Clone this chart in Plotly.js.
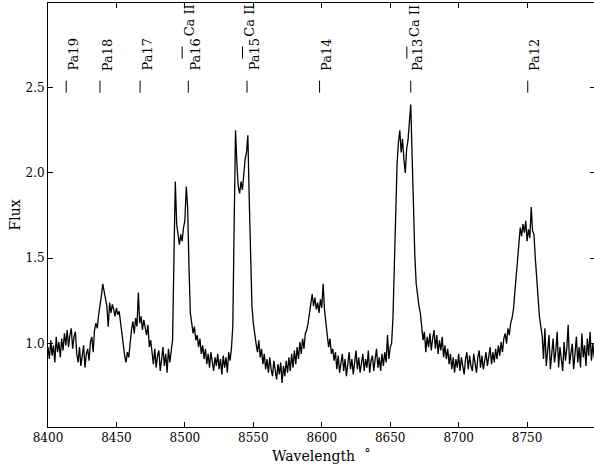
<!DOCTYPE html>
<html>
<head>
<meta charset="utf-8">
<script src="https://cdn.plot.ly/plotly-3.0.1.min.js"></script>
<style>html,body{margin:0;padding:0;overflow:hidden;background:#fff}#chart{width:595px;height:468px}</style>
</head>
<body>
<div id="chart"></div>
<script>
// Spectrum: flux sampled every 1 Angstrom from 8400 to 8800
const wlStart = 8400;
const wlStep = 1;
const flux = [
  // 8400-8409
  0.98,0.91,1.02,0.93,0.99,0.89,1.04,0.95,1.01,0.92,
  // 8410-8419
  1.03,0.96,1.06,0.99,1.08,0.98,1.05,1.09,0.97,1.04,
  // 8420-8429
  1.07,0.94,0.89,0.98,0.87,0.95,0.99,0.86,0.94,0.97,
  // 8430-8439
  0.90,1.01,1.04,0.95,1.08,1.12,1.09,1.17,1.22,1.28,
  // 8440-8449
  1.35,1.30,1.27,1.22,1.10,1.24,1.18,1.23,1.20,1.16,
  // 8450-8459
  1.21,1.17,1.19,1.12,1.05,0.98,0.93,0.89,0.95,0.92,
  // 8460-8469
  1.02,1.08,1.13,1.06,1.15,1.10,1.30,1.12,1.16,1.08,
  // 8470-8479
  1.14,1.10,1.05,1.11,0.98,1.02,0.94,0.88,0.97,0.86,
  // 8480-8489
  0.93,0.96,0.84,0.90,0.98,0.87,0.94,0.83,0.97,0.89,
  // 8490-8499
  0.95,1.02,1.50,1.95,1.70,1.62,1.58,1.64,1.60,1.68,
  // 8500-8509
  1.72,1.92,1.80,1.45,1.18,1.12,1.06,1.10,1.02,1.05,
  // 8510-8519
  0.98,1.03,0.94,0.99,0.91,0.97,0.88,0.94,0.86,0.95,
  // 8520-8529
  0.90,0.84,0.92,0.87,0.94,0.85,0.91,0.82,0.93,0.86,
  // 8530-8539
  0.92,0.83,0.95,0.90,0.97,1.10,1.70,2.25,2.05,1.92,
  // 8540-8549
  1.88,1.95,1.90,2.00,2.08,2.12,2.22,1.85,1.45,1.22,
  // 8550-8559
  1.12,1.05,1.00,0.95,1.02,0.92,0.97,0.88,0.94,0.85,
  // 8560-8569
  0.91,0.83,0.92,0.85,0.81,0.90,0.84,0.79,0.88,0.82,
  // 8570-8579
  0.89,0.77,0.87,0.81,0.90,0.83,0.92,0.84,0.94,0.86,
  // 8580-8589
  0.96,0.88,0.98,0.91,1.01,0.94,1.03,0.97,1.06,1.08,
  // 8590-8599
  1.12,1.18,1.25,1.29,1.22,1.27,1.20,1.24,1.18,1.26,
  // 8600-8609
  1.21,1.35,1.20,1.10,1.05,0.98,1.03,0.94,0.97,0.90,
  // 8610-8619
  0.95,0.85,0.93,0.83,0.90,0.94,0.84,0.91,0.81,0.89,
  // 8620-8629
  0.95,0.85,0.91,0.82,0.90,0.96,0.85,0.92,0.83,0.89,
  // 8630-8639
  0.94,0.84,0.91,0.86,0.96,0.83,0.90,0.93,0.84,0.91,
  // 8640-8649
  0.97,0.86,0.92,0.84,0.94,0.87,0.95,0.89,1.05,0.91,
  // 8650-8659
  0.98,1.00,1.15,1.45,1.78,2.05,2.18,2.25,2.12,2.20,
  // 8660-8669
  2.08,2.00,2.14,2.19,2.30,2.40,2.10,1.74,1.51,1.35,
  // 8670-8679
  1.28,1.22,1.18,1.10,1.02,1.07,0.95,1.04,0.98,1.06,
  // 8680-8689
  0.96,1.03,1.08,0.97,1.05,0.94,1.02,0.96,1.04,0.92,
  // 8690-8699
  0.99,0.91,0.97,0.88,0.94,0.85,0.92,0.83,0.91,0.86,
  // 8700-8709
  0.94,0.84,0.92,0.87,0.82,0.91,0.95,0.85,0.93,0.87,
  // 8710-8719
  0.84,0.94,0.88,0.83,0.92,0.96,0.86,0.93,0.85,0.91,
  // 8720-8729
  0.95,0.87,0.93,0.98,0.88,0.95,0.89,0.97,0.91,0.99,
  // 8730-8739
  0.93,1.01,0.95,1.03,1.06,1.00,1.09,1.05,1.12,1.15,
  // 8740-8749
  1.20,1.30,1.42,1.52,1.60,1.68,1.63,1.70,1.65,1.72,
  // 8750-8759
  1.60,1.67,1.62,1.80,1.66,1.64,1.50,1.38,1.25,1.16,
  // 8760-8769
  1.10,1.05,0.91,1.09,0.87,0.99,1.05,0.85,0.97,1.03,
  // 8770-8779
  0.89,0.96,1.07,0.86,0.98,0.92,0.84,1.01,0.90,0.97,
  // 8780-8789
  1.11,0.88,0.95,1.00,0.85,0.96,1.04,0.89,0.98,0.86,
  // 8790-8800
  1.06,0.92,0.99,0.87,1.03,0.93,1.07,0.90,1.00,0.92,0.97
];
const wavelength = flux.map((_, i) => wlStart + i * wlStep);

// Line identifications
const paNames = ['Pa19','Pa18','Pa17','Pa16','Pa15','Pa14','Pa13','Pa12'];
const paWaves = [8413.32, 8437.96, 8467.26, 8502.49, 8545.38, 8598.39, 8665.02, 8750.47];
const caNames = ['Ca II','Ca II','Ca II'];
const caWaves = [8498.02, 8542.09, 8662.14];

const xTicks = [8400, 8450, 8500, 8550, 8600, 8650, 8700, 8750];
const yTicks = [1.0, 1.5, 2.0, 2.5];

const serif = 'DejaVu Serif, serif';

const shapes = [];
const annotations = [];
paWaves.forEach((w, i) => {
  shapes.push({type:'line', xref:'x', yref:'y', x0:w, x1:w, y0:2.47, y1:2.54, line:{color:'#000', width:1}});
  annotations.push({x:w, y:2.592, xref:'x', yref:'y', text:paNames[i], textangle:-90, showarrow:false,
    xanchor:'left', yanchor:'bottom', xshift:-1, font:{family:serif, size:13, color:'#000'}, borderpad:0});
});
caWaves.forEach((w, i) => {
  shapes.push({type:'line', xref:'x', yref:'y', x0:w, x1:w, y0:2.67, y1:2.74, line:{color:'#000', width:1}});
  annotations.push({x:w, y:2.792, xref:'x', yref:'y', text:caNames[i], textangle:-90, showarrow:false,
    xanchor:'left', yanchor:'bottom', xshift:-1, font:{family:serif, size:13, color:'#000'}, borderpad:0});
});

const trace = {
  x: wavelength, y: flux, type:'scatter', mode:'lines',
  line:{color:'#000', width:1.3}, hoverinfo:'skip'
};

const layout = {
  width:595, height:468,
  margin:{l:48, r:0, t:3, b:41},
  paper_bgcolor:'#fff', plot_bgcolor:'#fff',
  showlegend:false,
  font:{family:serif, color:'#000', size:12},
  xaxis:{
    range:[8400, 8799.6], tickvals:xTicks, ticktext:xTicks.map(String),
    ticks:'inside', ticklen:5, tickwidth:1, tickcolor:'#000',
    showline:true, linecolor:'#000', linewidth:1, mirror:'ticks',
    showgrid:false, zeroline:false,
    tickfont:{family:serif, size:12, color:'#000'},
    title:{text:'Wavelength  ˚', font:{family:serif, size:14, color:'#000'}, standoff:6}
  },
  yaxis:{
    range:[0.512, 2.995], tickvals:yTicks, ticktext:['1.0','1.5','2.0','2.5'],
    ticks:'inside', ticklen:5, tickwidth:1, tickcolor:'#000',
    showline:true, linecolor:'#000', linewidth:1, mirror:'ticks',
    showgrid:false, zeroline:false,
    tickfont:{family:serif, size:12, color:'#000'},
    title:{text:'Flux', font:{family:serif, size:14, color:'#000'}, standoff:1}
  },
  shapes:shapes,
  annotations:annotations
};

Plotly.newPlot('chart', [trace], layout, {staticPlot:true, displayModeBar:false});
</script>
</body>
</html>
